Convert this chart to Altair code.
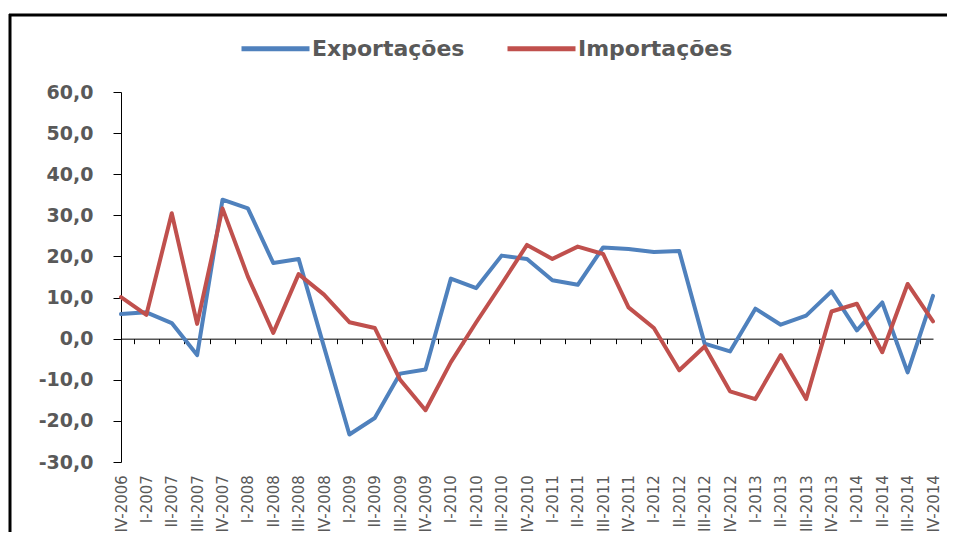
import json
import altair as alt
import pandas as pd

quarters = ["IV-2006", "I-2007", "II-2007", "III-2007", "IV-2007",
            "I-2008", "II-2008", "III-2008", "IV-2008",
            "I-2009", "II-2009", "III-2009", "IV-2009",
            "I-2010", "II-2010", "III-2010", "IV-2010",
            "I-2011", "II-2011", "III-2011", "IV-2011",
            "I-2012", "II-2012", "III-2012", "IV-2012",
            "I-2013", "II-2013", "III-2013", "IV-2013",
            "I-2014", "II-2014", "III-2014", "IV-2014"]

exportacoes = [6.0, 6.4, 3.8, -4.0, 33.8, 31.7, 18.4, 19.4, -2.0, -23.3,
               -19.3, -8.5, -7.5, 14.6, 12.3, 20.2, 19.4, 14.2, 13.1, 22.2,
               21.8, 21.1, 21.3, -1.2, -3.1, 7.3, 3.4, 5.6, 11.5, 2.0,
               8.8, -8.2, 10.4]

importacoes = [10.1, 5.8, 30.5, 3.6, 31.7, 15.1, 1.4, 15.7, 10.7, 4.0,
               2.6, -10.0, -17.4, -5.7, 4.0, 13.3, 22.8, 19.4, 22.4, 20.6,
               7.6, 2.6, -7.7, -1.9, -12.8, -14.7, -4.0, -14.7, 6.6, 8.5,
               -3.3, 13.3, 4.2]

series_names = ["Exportações", "Importações"]
series_colors = ["#4F81BD", "#C0504D"]
y_ticks = [-30, -20, -10, 0, 10, 20, 30, 40, 50, 60]

rows = []
for i, q in enumerate(quarters):
    rows.append({"idx": i, "trimestre": q, "serie": series_names[0], "valor": exportacoes[i]})
    rows.append({"idx": i, "trimestre": q, "serie": series_names[1], "valor": importacoes[i]})
df = pd.DataFrame(rows)

W, H = 812, 370
PAD_RIGHT = 14
n = len(quarters)
half_step = W / (n - 1) / 2
zero_offset = -H * (0 - (-30)) / (60 - (-30))

label_font = "DejaVu Sans"
gray = "#595959"

x_axis = alt.Axis(
    values=list(range(n)),
    labelExpr=f"{json.dumps(quarters, ensure_ascii=False)}[datum.value]",
    labelAngle=-90,
    labelAlign="right",
    labelBaseline="middle",
    labelFont=label_font,
    labelFontSize=15,
    labelColor=gray,
    labelPadding=131,
    labelOffset=-half_step,
    tickOffset=half_step,
    tickSize=5,
    tickColor="black",
    tickWidth=1,
    tickOpacity={"condition": {"test": f"datum.value == {n - 1}", "value": 0}, "value": 1},
    domain=True,
    domainColor="black",
    domainWidth=1,
    offset=zero_offset,
    grid=False,
    title=None,
    labelOverlap=False,
)

y_axis = alt.Axis(
    values=y_ticks,
    labelExpr="replace(replace(format(datum.value, '.1f'), '.', ','), '\u2212', '-')",
    labelFont=label_font,
    labelFontSize=19,
    labelFontWeight="bold",
    labelColor=gray,
    labelPadding=20,
    tickSize=8,
    tickColor="black",
    domainColor="black",
    grid=False,
    title=None,
)

lines = alt.Chart(df).mark_line(strokeWidth=4, strokeJoin="round", strokeCap="round").encode(
    x=alt.X("idx:Q", scale=alt.Scale(domain=[0, n - 1], nice=False, zero=False), axis=x_axis),
    y=alt.Y("valor:Q", scale=alt.Scale(domain=[-30, 60], nice=False, zero=False), axis=y_axis),
    color=alt.Color(
        "serie:N",
        scale=alt.Scale(domain=series_names, range=series_colors),
        legend=alt.Legend(
            orient="none",
            legendX=118,
            legendY=-80,
            direction="horizontal",
            title=None,
            symbolType="stroke",
            symbolSize=68 * 68,
            symbolStrokeWidth=5,
            labelFont=label_font,
            labelFontSize=22,
            labelFontWeight="bold",
            labelColor=gray,
            labelOffset=0,
            columnPadding=32,
            padding=0,
        ),
    ),
)

frame_df = pd.DataFrame({"f": [0]})
frame_top = alt.Chart(frame_df).mark_rule(stroke="black", strokeWidth=3).encode(
    x=alt.value(-112), x2=alt.value(W + PAD_RIGHT), y=alt.value(-77)
)
frame_left = alt.Chart(frame_df).mark_rule(stroke="black", strokeWidth=3).encode(
    x=alt.value(-111), y=alt.value(-78), y2=alt.value(H + 70)
)

chart = alt.layer(frame_top, frame_left, lines).properties(
    width=W,
    height=H,
    autosize=alt.AutoSizeParams(type="none"),
    padding={"left": 113, "top": 84, "right": PAD_RIGHT, "bottom": 70},
).configure(background="white").configure_view(stroke=None)

chart.save("out.html", embed_options={"renderer": "svg", "actions": False})
